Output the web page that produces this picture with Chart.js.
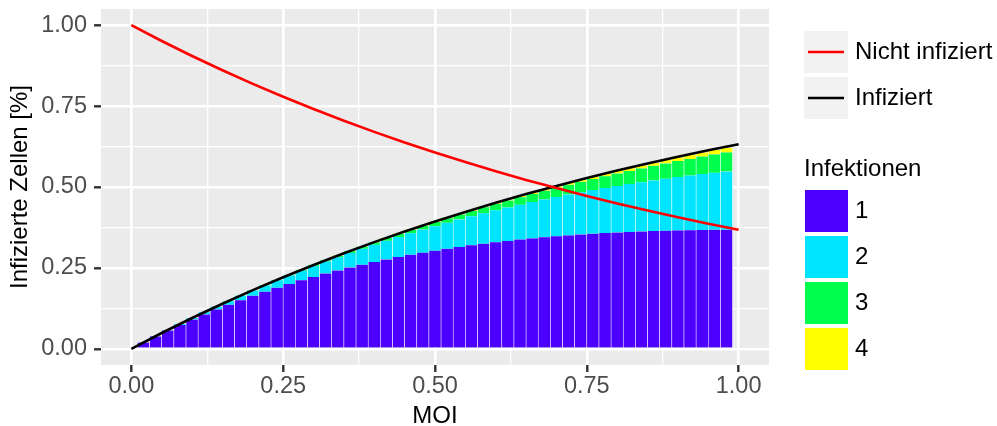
<!DOCTYPE html>
<html>
<head>
<meta charset="utf-8">
<script src="https://cdn.jsdelivr.net/npm/chart.js@4.4.0/dist/chart.umd.min.js"></script>
<style>
  html, body { margin: 0; padding: 0; background: #ffffff; }
  #wrap { width: 997px; height: 426px; }
</style>
</head>
<body>
<div id="wrap"><canvas id="moi_chart" width="997" height="426"></canvas></div>
<script>
// MOI der Balken
const moi = [0.02, 0.04, 0.06, 0.08, 0.10, 0.12, 0.14, 0.16, 0.18, 0.20,
             0.22, 0.24, 0.26, 0.28, 0.30, 0.32, 0.34, 0.36, 0.38, 0.40,
             0.42, 0.44, 0.46, 0.48, 0.50, 0.52, 0.54, 0.56, 0.58, 0.60,
             0.62, 0.64, 0.66, 0.68, 0.70, 0.72, 0.74, 0.76, 0.78, 0.80,
             0.82, 0.84, 0.86, 0.88, 0.90, 0.92, 0.94, 0.96, 0.98];

// Anteil der Zellen mit 1, 2, 3, 4 Infektionen
const infektion1 = [0.0196, 0.0384, 0.0565, 0.0738, 0.0905, 0.1064, 0.1217, 0.1363, 0.1503, 0.1637,
                    0.1766, 0.1888, 0.2005, 0.2116, 0.2222, 0.2324, 0.2420, 0.2512, 0.2599, 0.2681,
                    0.2760, 0.2834, 0.2904, 0.2970, 0.3033, 0.3092, 0.3147, 0.3199, 0.3247, 0.3293,
                    0.3335, 0.3375, 0.3411, 0.3445, 0.3476, 0.3505, 0.3531, 0.3554, 0.3576, 0.3595,
                    0.3612, 0.3626, 0.3639, 0.3650, 0.3659, 0.3666, 0.3672, 0.3676, 0.3678];
const infektion2 = [0.0002, 0.0008, 0.0017, 0.0030, 0.0045, 0.0064, 0.0085, 0.0109, 0.0135, 0.0164,
                    0.0194, 0.0227, 0.0261, 0.0296, 0.0333, 0.0372, 0.0411, 0.0452, 0.0494, 0.0536,
                    0.0580, 0.0624, 0.0668, 0.0713, 0.0758, 0.0804, 0.0850, 0.0896, 0.0942, 0.0988,
                    0.1034, 0.1080, 0.1126, 0.1171, 0.1217, 0.1262, 0.1307, 0.1351, 0.1395, 0.1438,
                    0.1481, 0.1523, 0.1565, 0.1606, 0.1647, 0.1686, 0.1726, 0.1765, 0.1802];
const infektion3 = [0.0000, 0.0000, 0.0000, 0.0001, 0.0002, 0.0003, 0.0004, 0.0006, 0.0008, 0.0011,
                    0.0014, 0.0018, 0.0023, 0.0028, 0.0033, 0.0040, 0.0047, 0.0054, 0.0063, 0.0071,
                    0.0081, 0.0091, 0.0102, 0.0114, 0.0126, 0.0139, 0.0153, 0.0167, 0.0182, 0.0198,
                    0.0214, 0.0230, 0.0248, 0.0266, 0.0284, 0.0303, 0.0322, 0.0342, 0.0363, 0.0383,
                    0.0405, 0.0426, 0.0449, 0.0471, 0.0494, 0.0517, 0.0541, 0.0565, 0.0589];
const infektion4 = [0.0000, 0.0000, 0.0000, 0.0000, 0.0000, 0.0000, 0.0000, 0.0000, 0.0000, 0.0001,
                    0.0001, 0.0001, 0.0001, 0.0002, 0.0003, 0.0003, 0.0004, 0.0005, 0.0006, 0.0007,
                    0.0009, 0.0010, 0.0012, 0.0014, 0.0016, 0.0018, 0.0021, 0.0023, 0.0026, 0.0030,
                    0.0033, 0.0037, 0.0041, 0.0045, 0.0050, 0.0055, 0.0060, 0.0065, 0.0071, 0.0077,
                    0.0083, 0.0090, 0.0096, 0.0104, 0.0111, 0.0119, 0.0127, 0.0136, 0.0144];

// Kurven
const moiKurve = [0, 0.05, 0.10, 0.15, 0.20, 0.25, 0.30, 0.35, 0.40, 0.45, 0.50,
                  0.55, 0.60, 0.65, 0.70, 0.75, 0.80, 0.85, 0.90, 0.95, 1.00];
const nichtInfiziert = [1.0000, 0.9512, 0.9048, 0.8607, 0.8187, 0.7788, 0.7408, 0.7047, 0.6703, 0.6376, 0.6065,
                        0.5770, 0.5488, 0.5220, 0.4966, 0.4724, 0.4493, 0.4274, 0.4066, 0.3867, 0.3679];
const infiziert = [0.0000, 0.0488, 0.0952, 0.1393, 0.1813, 0.2212, 0.2592, 0.2953, 0.3297, 0.3624, 0.3935,
                   0.4230, 0.4512, 0.4780, 0.5034, 0.5276, 0.5507, 0.5726, 0.5934, 0.6133, 0.6321];

const tickValues = [0, 0.125, 0.25, 0.375, 0.5, 0.625, 0.75, 0.875, 1];
const majorTicks = [0, 0.25, 0.5, 0.75, 1];

const infLabels = ['1', '2', '3', '4'];
const barColors = ['#4C00FF', '#00E5FF', '#00FF4D', '#FFFF00'];
const lineLabels = ['Nicht infiziert', 'Infiziert'];
const lineColors = ['#FF0000', '#000000'];
const legendTitle = 'Infektionen';

const FONT = '"Liberation Sans", Arial, Helvetica, sans-serif';

function isMajor(v) {
  return majorTicks.some(m => Math.abs(m - v) < 1e-9);
}

function xy(xs, ys) {
  return xs.map((x, i) => ({ x: x, y: ys[i] }));
}

const panelPlugin = {
  id: 'panel',
  beforeDraw(chart) {
    const a = chart.chartArea;
    const ctx = chart.ctx;
    ctx.save();
    ctx.fillStyle = '#EBEBEB';
    ctx.fillRect(a.left, a.top, a.right - a.left, a.bottom - a.top);
    ctx.restore();
  }
};

const legendPlugin = {
  id: 'ggLegend',
  afterDraw(chart) {
    const ctx = chart.ctx;
    ctx.save();
    ctx.font = '24px ' + FONT;
    ctx.textBaseline = 'middle';
    ctx.textAlign = 'left';
    lineLabels.forEach((lab, i) => {
      const y = 31 + i * 46;
      ctx.fillStyle = '#F2F2F2';
      ctx.fillRect(804, y, 44, 42);
      ctx.strokeStyle = lineColors[i];
      ctx.lineWidth = 2.6;
      ctx.beginPath();
      ctx.moveTo(808, y + 21);
      ctx.lineTo(844, y + 21);
      ctx.stroke();
      ctx.fillStyle = '#000000';
      ctx.fillText(lab, 855, y + 21);
    });
    ctx.fillStyle = '#000000';
    ctx.fillText(legendTitle, 804, 169);
    infLabels.forEach((lab, i) => {
      const y = 190 + i * 46;
      ctx.fillStyle = barColors[i];
      ctx.fillRect(805, y, 43, 42);
      ctx.fillStyle = '#000000';
      ctx.fillText(lab, 855, y + 21);
    });
    ctx.restore();
  }
};

const barSets = [infektion1, infektion2, infektion3, infektion4].map((vals, i) => ({
  type: 'bar',
  label: infLabels[i],
  data: xy(moi, vals),
  backgroundColor: barColors[i],
  borderColor: '#FFFFFF',
  borderWidth: { left: 0.6, right: 0.6, top: 0, bottom: 0 },
  borderSkipped: false,
  barPercentage: 1,
  categoryPercentage: 1,
  stack: 'infektionen',
  order: 3
}));

function gridOpts() {
  return {
    color: '#FFFFFF',
    offset: false,
    lineWidth: c => (c.tick && isMajor(c.tick.value)) ? 2.6 : 1.3,
    tickColor: c => (c.tick && isMajor(c.tick.value)) ? '#333333' : 'rgba(0,0,0,0)',
    tickWidth: 2.4,
    tickLength: 7
  };
}

const config_moi = {
  data: {
    datasets: barSets.concat([
      {
        type: 'line',
        label: lineLabels[1],
        data: xy(moiKurve, infiziert),
        borderColor: lineColors[1],
        borderWidth: 2.6,
        pointRadius: 0,
        tension: 0,
        stack: 'schwarz',
        order: 2
      },
      {
        type: 'line',
        label: lineLabels[0],
        data: xy(moiKurve, nichtInfiziert),
        borderColor: lineColors[0],
        borderWidth: 2.6,
        pointRadius: 0,
        tension: 0,
        stack: 'rot',
        order: 1
      }
    ])
  },
  options: {
    responsive: false,
    animation: false,
    devicePixelRatio: 1,
    layout: { padding: { top: 9, right: 228, left: 0, bottom: 0 } },
    plugins: {
      legend: { display: false },
      tooltip: { enabled: false }
    },
    scales: {
      x: {
        type: 'linear',
        min: -0.05,
        max: 1.05,
        offset: false,
        stacked: true,
        afterBuildTicks(scale) { scale.ticks = tickValues.map(v => ({ value: v })); },
        afterFit(scale) {
          scale.height = 61;
          scale.paddingLeft = 0;
          scale.paddingRight = 0;
        },
        border: { display: false },
        grid: gridOpts(),
        ticks: {
          autoSkip: false,
          maxRotation: 0,
          padding: 0,
          color: '#4D4D4D',
          font: { family: FONT, size: 23.5 },
          callback: v => isMajor(v) ? v.toFixed(2) : ''
        },
        title: {
          display: true,
          text: 'MOI',
          color: '#000000',
          font: { family: FONT, size: 24, lineHeight: 0.8 },
          padding: 0
        }
      },
      y: {
        type: 'linear',
        min: -0.05,
        max: 1.05,
        stacked: true,
        afterBuildTicks(scale) { scale.ticks = tickValues.map(v => ({ value: v })); },
        afterFit(scale) {
          scale.width = 101;
          scale.paddingTop = 0;
          scale.paddingBottom = 0;
        },
        border: { display: false },
        grid: gridOpts(),
        ticks: {
          autoSkip: false,
          padding: 7,
          color: '#4D4D4D',
          font: { family: FONT, size: 23.5 },
          callback: v => isMajor(v) ? v.toFixed(2) : ''
        },
        title: {
          display: true,
          text: 'Infizierte Zellen [%]',
          color: '#000000',
          font: { family: FONT, size: 24, lineHeight: 1.2 },
          padding: { top: 6, bottom: 0 }
        }
      }
    }
  },
  plugins: [panelPlugin, legendPlugin]
};

const ctx_moi = document.getElementById('moi_chart').getContext('2d');
const myChart_moi = new Chart(ctx_moi, config_moi);
</script>
</body>
</html>
